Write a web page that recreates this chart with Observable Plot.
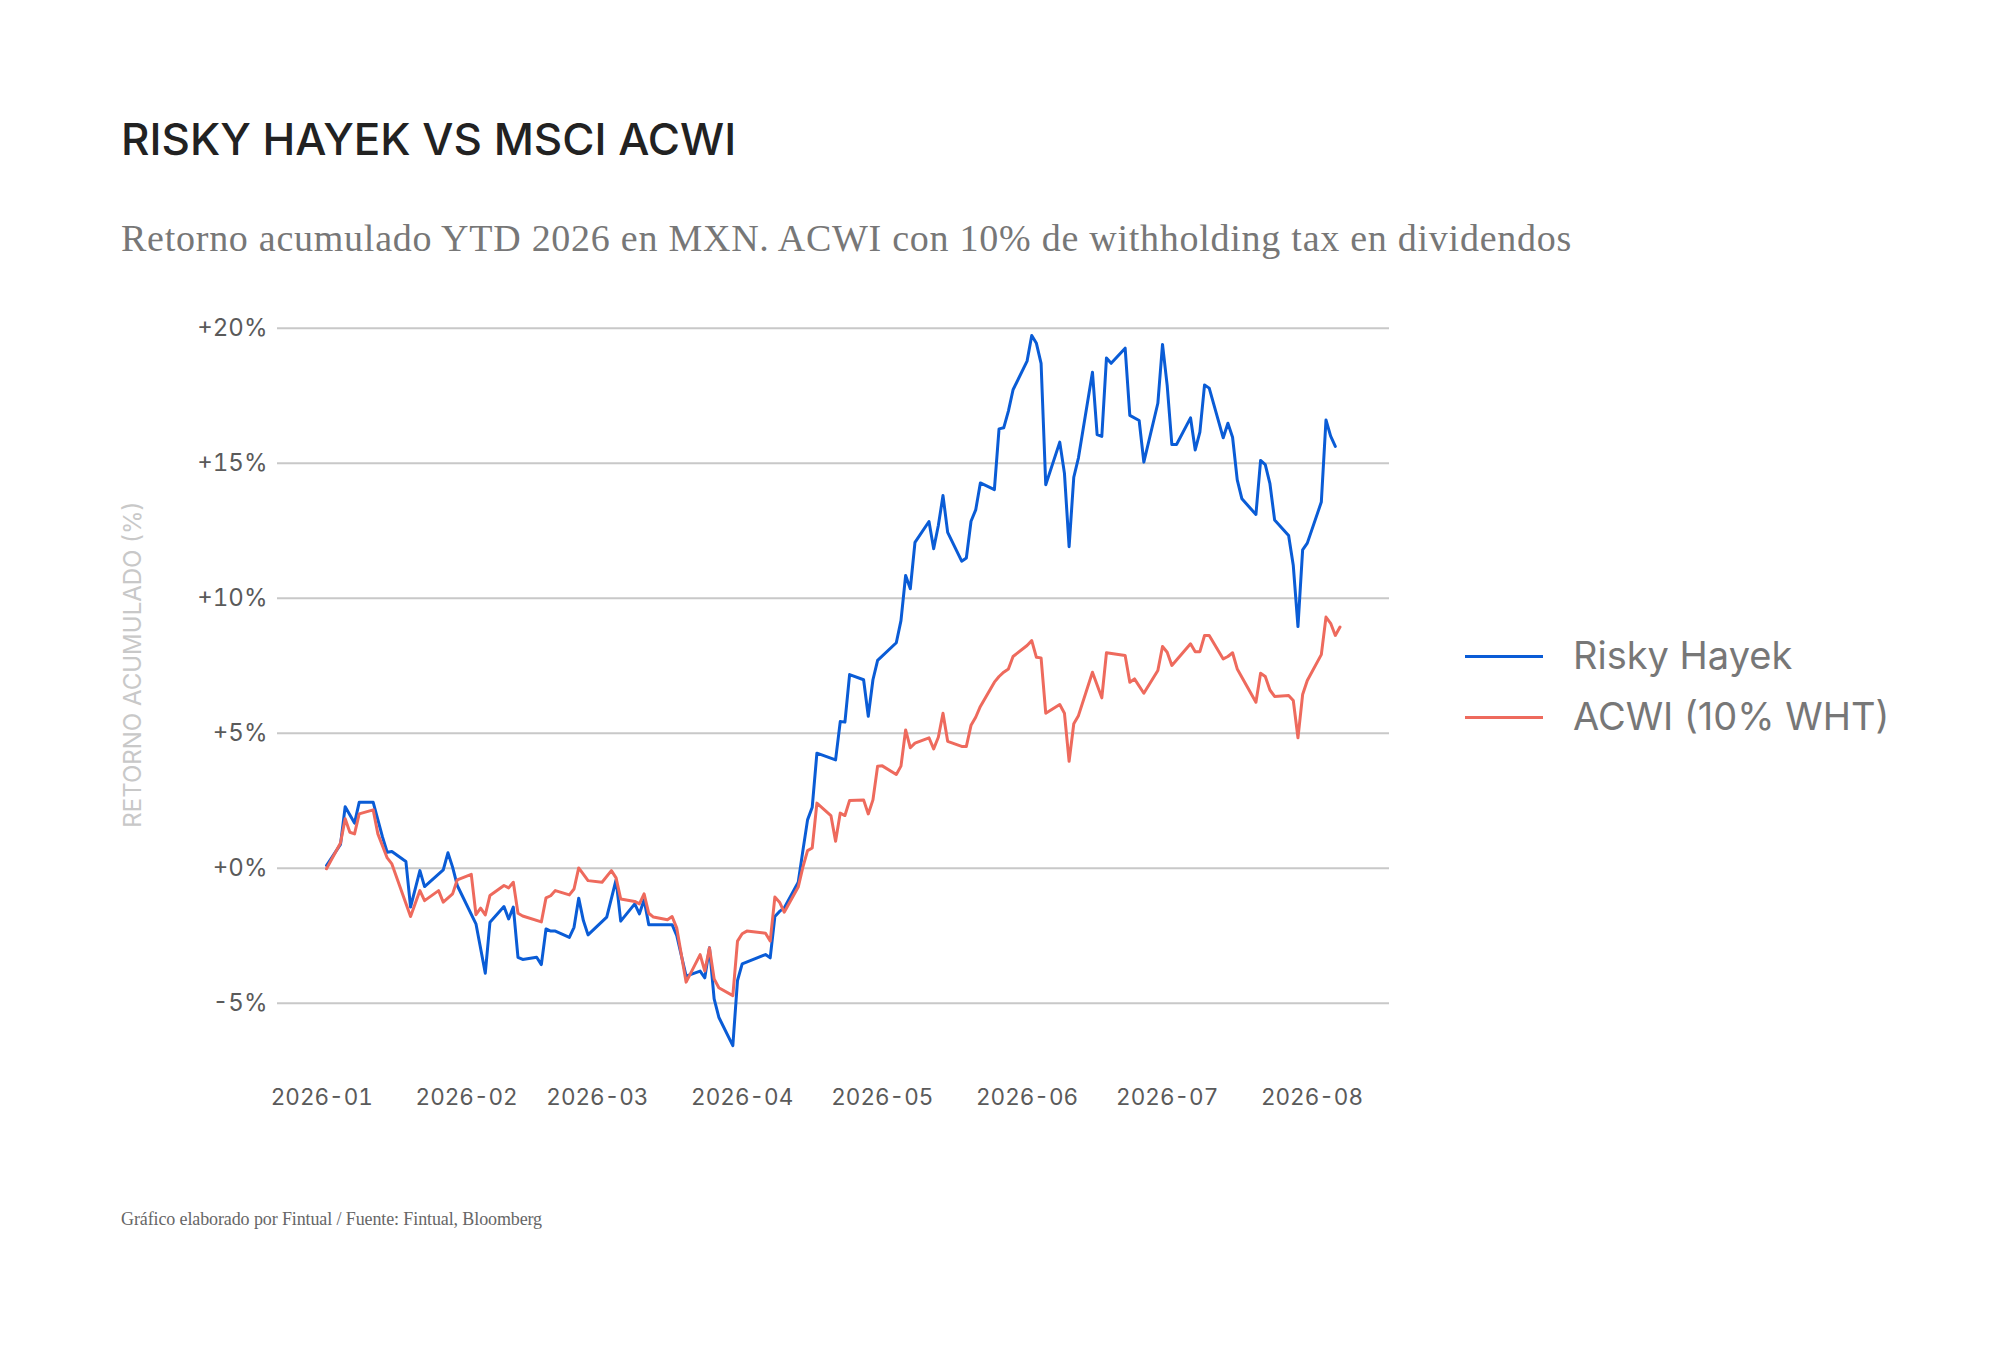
<!DOCTYPE html>
<html>
<head>
<meta charset="utf-8">
<script src="https://cdn.jsdelivr.net/npm/d3@7"></script>
<script src="https://cdn.jsdelivr.net/npm/@observablehq/plot@0.6"></script>
<style>
  html, body { margin: 0; padding: 0; background: #fff; }
  #page { position: relative; width: 2016px; height: 1349px; overflow: hidden; background: #fff; }
  .abs { position: absolute; white-space: nowrap; line-height: 1; }
  #title { left: 121px; top: 117px; font-family: Inter, "Noto Sans", sans-serif; font-weight: 500; font-size: 44px; color: #222; }
  #subtitle { left: 121px; top: 219px; font-family: "Liberation Serif", serif; font-size: 38px; color: #777; }
  #caption { left: 121px; top: 1210px; font-family: "Liberation Serif", serif; font-size: 18px; color: #666; }
  #chart { position: absolute; left: 0; top: 300px; }
  .swatch { position: absolute; left: 1465px; width: 78px; height: 3px; }
  .legtext { left: 1573px; font-family: Inter, "Noto Sans", sans-serif; font-size: 38px; color: #777; }
  g[aria-label="y-axis label"] text { fill: #c8c8c8; }
  g[aria-label="x-axis tick label"] { font-size: 22.5px; }
</style>
</head>
<body>
<div id="page">
  <div id="title" class="abs">RISKY HAYEK VS MSCI ACWI</div>
  <div id="subtitle" class="abs">Retorno acumulado YTD 2026 en MXN. ACWI con 10% de withholding tax en dividendos</div>
  <div id="chart"></div>
  <div id="legend"></div>
  <div id="caption" class="abs">Gráfico elaborado por Fintual / Fuente: Fintual, Bloomberg</div>
</div>
<script>
// ---- Data ----
const seriesNames = ["Risky Hayek", "ACWI (10% WHT)"];
const seriesColors = ["#0a5cd6", "#ee6a5d"];

const hayekDates = [
  "2026-01-02","2026-01-05","2026-01-06","2026-01-08","2026-01-09","2026-01-12","2026-01-14","2026-01-15","2026-01-16",
  "2026-01-19","2026-01-20","2026-01-22","2026-01-23","2026-01-27","2026-01-28","2026-01-29","2026-01-30",
  "2026-02-03","2026-02-05","2026-02-06","2026-02-09","2026-02-10","2026-02-11","2026-02-12","2026-02-13",
  "2026-02-16","2026-02-17","2026-02-18","2026-02-19","2026-02-20","2026-02-23","2026-02-24","2026-02-25","2026-02-26","2026-02-27",
  "2026-03-03","2026-03-05","2026-03-06","2026-03-09","2026-03-10","2026-03-11","2026-03-12","2026-03-17","2026-03-18","2026-03-20",
  "2026-03-23","2026-03-24","2026-03-25","2026-03-26","2026-03-27","2026-03-30","2026-03-31","2026-04-01",
  "2026-04-06","2026-04-07","2026-04-08","2026-04-09","2026-04-10","2026-04-13","2026-04-14","2026-04-15","2026-04-16","2026-04-17",
  "2026-04-21","2026-04-22","2026-04-23","2026-04-24","2026-04-27","2026-04-28","2026-04-29","2026-04-30",
  "2026-05-04","2026-05-05","2026-05-06","2026-05-07","2026-05-08","2026-05-11","2026-05-12","2026-05-13","2026-05-14","2026-05-15",
  "2026-05-18","2026-05-19","2026-05-20","2026-05-21","2026-05-22","2026-05-25","2026-05-26","2026-05-27","2026-05-28","2026-05-29",
  "2026-06-01","2026-06-02","2026-06-03","2026-06-04","2026-06-05","2026-06-08","2026-06-09","2026-06-10","2026-06-11","2026-06-12",
  "2026-06-15","2026-06-16","2026-06-17","2026-06-18","2026-06-19","2026-06-22","2026-06-23","2026-06-25","2026-06-26",
  "2026-06-29","2026-06-30","2026-07-01","2026-07-02","2026-07-03","2026-07-06","2026-07-07","2026-07-08","2026-07-09","2026-07-10",
  "2026-07-13","2026-07-14","2026-07-15","2026-07-16","2026-07-17","2026-07-20","2026-07-21","2026-07-22","2026-07-23","2026-07-24",
  "2026-07-27","2026-07-28","2026-07-29","2026-07-30","2026-07-31","2026-08-03","2026-08-04","2026-08-05","2026-08-06"
];
const hayekValues = [
  0.10, 0.88, 2.28, 1.67, 2.44, 2.44, 1.15, 0.59, 0.62,
  0.25, -1.44, -0.09, -0.68, -0.06, 0.57, 0.04, -0.64,
  -2.06, -3.89, -2.00, -1.42, -1.88, -1.44, -3.30, -3.38,
  -3.30, -3.57, -2.25, -2.33, -2.33, -2.56, -2.19, -1.11, -1.94, -2.47,
  -1.81, -0.43, -1.96, -1.32, -1.69, -1.17, -2.09, -2.09, -2.50, -4.00,
  -3.81, -4.06, -2.95, -4.84, -5.52, -6.57, -4.16, -3.54,
  -3.20, -3.32, -1.79, -1.60, -1.47, -0.52, 0.65, 1.79, 2.26, 4.26,
  4.01, 5.43, 5.41, 7.17, 6.98, 5.63, 6.98, 7.70,
  8.35, 9.17, 10.84, 10.35, 12.07, 12.84, 11.83, 12.69, 13.80, 12.44,
  11.37, 11.49, 12.85, 13.27, 14.27, 14.02, 16.27, 16.31, 16.93, 17.72,
  18.78, 19.73, 19.44, 18.70, 14.20, 15.78, 14.63, 11.91, 14.48, 15.20,
  18.37, 16.06, 15.99, 18.90, 18.70, 19.26, 16.77, 16.58, 15.04,
  17.22, 19.40, 17.88, 15.69, 15.69, 16.68, 15.49, 16.15, 17.90, 17.78,
  15.94, 16.48, 15.96, 14.38, 13.68, 13.10, 15.10, 14.95, 14.24, 12.90,
  12.32, 11.21, 8.95, 11.79, 12.04, 13.56, 16.60, 16.00, 15.62
];

const acwiDates = [
  "2026-01-02","2026-01-05","2026-01-06","2026-01-07","2026-01-08","2026-01-09","2026-01-12","2026-01-13","2026-01-15","2026-01-16",
  "2026-01-20","2026-01-22","2026-01-23","2026-01-26","2026-01-27","2026-01-29","2026-01-30",
  "2026-02-02","2026-02-03","2026-02-04","2026-02-05","2026-02-06","2026-02-09","2026-02-10","2026-02-11","2026-02-12","2026-02-13",
  "2026-02-17","2026-02-18","2026-02-19","2026-02-20","2026-02-23","2026-02-24","2026-02-25","2026-02-27",
  "2026-03-02","2026-03-04","2026-03-05","2026-03-06","2026-03-09","2026-03-10","2026-03-11","2026-03-12","2026-03-13",
  "2026-03-16","2026-03-17","2026-03-18","2026-03-20","2026-03-23","2026-03-24","2026-03-25","2026-03-26","2026-03-27",
  "2026-03-30","2026-03-31","2026-04-01","2026-04-02","2026-04-06","2026-04-07","2026-04-08","2026-04-09","2026-04-10",
  "2026-04-13","2026-04-14","2026-04-15","2026-04-16","2026-04-17","2026-04-20","2026-04-21","2026-04-22","2026-04-23","2026-04-24",
  "2026-04-27","2026-04-28","2026-04-29","2026-04-30","2026-05-01","2026-05-04","2026-05-05","2026-05-06","2026-05-07","2026-05-08",
  "2026-05-11","2026-05-12","2026-05-13","2026-05-14","2026-05-15","2026-05-18","2026-05-19","2026-05-20","2026-05-21","2026-05-22",
  "2026-05-25","2026-05-26","2026-05-27","2026-05-28","2026-05-29","2026-06-01","2026-06-02","2026-06-03","2026-06-04","2026-06-05",
  "2026-06-08","2026-06-09","2026-06-10","2026-06-11","2026-06-12","2026-06-15","2026-06-17","2026-06-18","2026-06-22","2026-06-23",
  "2026-06-24","2026-06-26","2026-06-29","2026-06-30","2026-07-01","2026-07-02","2026-07-06","2026-07-07","2026-07-08","2026-07-09",
  "2026-07-10","2026-07-13","2026-07-14","2026-07-15","2026-07-16","2026-07-20","2026-07-21","2026-07-22","2026-07-23","2026-07-24",
  "2026-07-27","2026-07-28","2026-07-29","2026-07-30","2026-07-31","2026-08-03","2026-08-04","2026-08-05","2026-08-06","2026-08-07"
];
const acwiValues = [
  -0.02, 0.93, 1.83, 1.33, 1.27, 2.01, 2.16, 1.27, 0.38, 0.16,
  -1.79, -0.83, -1.20, -0.83, -1.26, -0.95, -0.43,
  -0.23, -1.72, -1.48, -1.73, -1.01, -0.64, -0.73, -0.52, -1.67, -1.77,
  -1.99, -1.10, -1.02, -0.83, -0.99, -0.77, 0.01, -0.46,
  -0.52, -0.09, -0.36, -1.14, -1.23, -1.32, -0.95, -1.67, -1.81,
  -1.91, -1.79, -2.22, -4.22, -3.20, -3.81, -2.95, -4.10, -4.43,
  -4.72, -2.70, -2.43, -2.33, -2.41, -2.70, -1.07, -1.26, -1.63,
  -0.70, 0.04, 0.65, 0.75, 2.41, 1.95, 1.00, 2.04, 1.95, 2.51,
  2.53, 2.01, 2.53, 3.78, 3.79, 3.47, 3.78, 5.12, 4.46, 4.63,
  4.83, 4.42, 4.85, 5.74, 4.70, 4.51, 4.51, 5.29, 5.59, 5.99,
  6.89, 7.10, 7.26, 7.38, 7.84, 8.25, 8.43, 7.81, 7.79, 5.74,
  6.06, 5.74, 3.96, 5.35, 5.65, 7.26, 6.31, 7.98, 7.88, 6.89,
  7.01, 6.48, 7.32, 8.21, 8.00, 7.51, 8.31, 8.02, 8.02, 8.62,
  8.62, 7.75, 7.84, 7.98, 7.38, 6.15, 7.22, 7.10, 6.60, 6.36,
  6.40, 6.21, 4.83, 6.43, 6.95, 7.91, 9.30, 9.07, 8.62, 8.93
];

const yTicks = [-5, 0, 5, 10, 15, 20];
const yLabel = "RETORNO ACUMULADO (%)";

// ---- Build table ----
const parse = d3.utcParse("%Y-%m-%d");
const rows = [
  ...hayekDates.map((d, i) => ({date: parse(d), value: hayekValues[i], series: seriesNames[0]})),
  ...acwiDates.map((d, i) => ({date: parse(d), value: acwiValues[i], series: seriesNames[1]}))
];

const fmtY = d => (d >= 0 ? "+" : "") + d + "%";

const chart = Plot.plot({
  width: 2016,
  height: 830,
  marginTop: 14.2,
  marginBottom: 59.8,
  marginLeft: 277,
  marginRight: 627,
  style: {fontFamily: "Inter, 'Noto Sans', sans-serif", fontSize: "24px", color: "#5a5a5a", background: "transparent", overflow: "visible"},
  x: {type: "utc", domain: [new Date(Date.UTC(2025, 11, 22, 12, 14)), new Date(Date.UTC(2026, 7, 17, 14, 24))]},
  y: {domain: [-7.5, 20.5]},
  color: {domain: seriesNames, range: seriesColors},
  marks: [
    Plot.gridY(yTicks, {stroke: "#c8c8c8", strokeOpacity: 1, strokeWidth: 2}),
    Plot.axisY({ticks: yTicks, tickSize: 0, tickPadding: 10, tickFormat: fmtY, label: yLabel, labelAnchor: "center", labelOffset: 154, labelArrow: "none"}),
    Plot.axisX({ticks: d3.utcMonth.every(1), tickFormat: d3.utcFormat("%Y-%m"), tickSize: 0, tickPadding: 18, label: null}),
    Plot.line(rows.filter(r => r.series === seriesNames[0]), {x: "date", y: "value", stroke: "series", strokeWidth: 3, curve: "linear"}),
    Plot.line(rows.filter(r => r.series === seriesNames[1]), {x: "date", y: "value", stroke: "series", strokeWidth: 3, curve: "linear"})
  ]
});
document.getElementById("chart").appendChild(chart);

// Nudge the y-axis title up to where the reference centres it
const yLab = chart.querySelector('g[aria-label="y-axis label"]');
if (yLab) {
  const t = yLab.getAttribute("transform") || "";
  yLab.setAttribute("transform", (t + " translate(0,-28)").trim());
}

// ---- Legend (HTML) ----
const legend = document.getElementById("legend");
const legendRows = [{swatchTop: 654.5, textTop: 636}, {swatchTop: 715.8, textTop: 697}];
seriesNames.forEach((name, i) => {
  const sw = document.createElement("div");
  sw.className = "swatch";
  sw.style.top = legendRows[i].swatchTop + "px";
  sw.style.background = seriesColors[i];
  legend.appendChild(sw);
  const t = document.createElement("div");
  t.className = "abs legtext";
  t.style.top = legendRows[i].textTop + "px";
  t.textContent = name;
  legend.appendChild(t);
});

// ---- Fit text widths to the reference ----
function fitWidth(id, target) {
  const el = document.getElementById(id);
  const w = el.getBoundingClientRect().width;
  const n = el.textContent.length;
  el.style.letterSpacing = ((target - w) / n) + "px";
}
fitWidth("subtitle", 1451);
fitWidth("caption", 421);
</script>
</body>
</html>
